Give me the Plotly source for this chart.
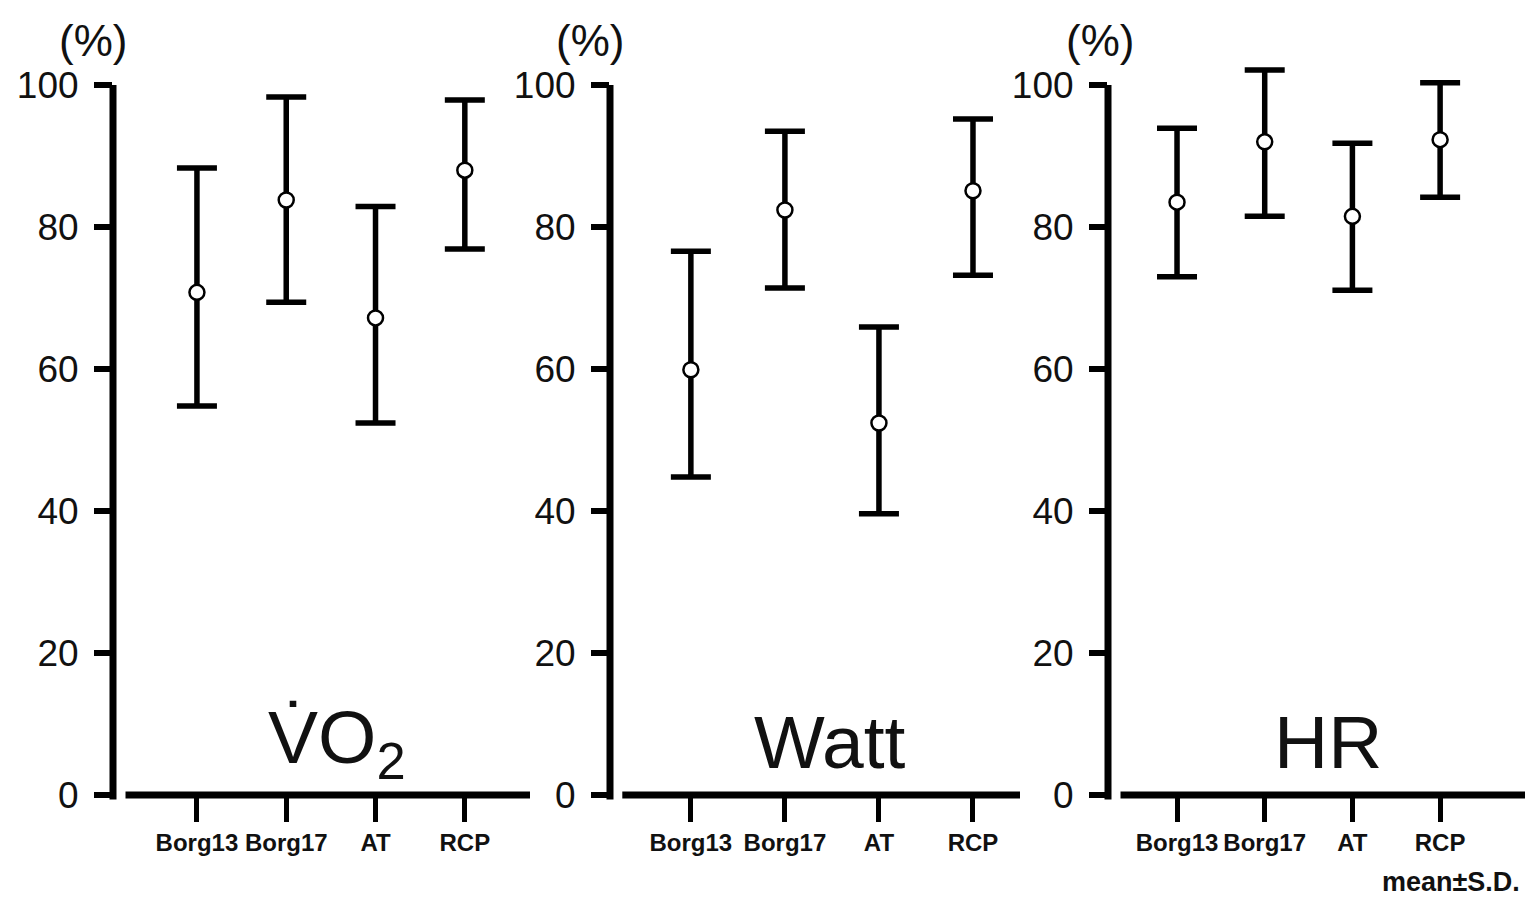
import plotly.graph_objects as go

categories = ["Borg13", "Borg17", "AT", "RCP"]

vo2_mean = [70.8, 83.8, 67.2, 88.0]
vo2_upper = [88.3, 98.3, 82.9, 97.9]
vo2_lower = [54.8, 69.4, 52.4, 76.9]

watt_mean = [59.9, 82.4, 52.4, 85.1]
watt_upper = [76.6, 93.5, 65.9, 95.2]
watt_lower = [44.8, 71.4, 39.6, 73.2]

hr_mean = [83.5, 92.0, 81.5, 92.3]
hr_upper = [93.9, 102.1, 91.8, 100.3]
hr_lower = [73.0, 81.5, 71.1, 84.2]

y_ticks = [0, 20, 40, 60, 80, 100]
panel_titles = ["V\u0307O<sub>2</sub>", "Watt", "HR"]
unit_label = "(%)"
note = "mean\u00b1S.D."

W, H = 1526, 897
FONT = "Liberation Sans, Arial, sans-serif"

panels = [
    (vo2_mean, vo2_upper, vo2_lower),
    (watt_mean, watt_upper, watt_lower),
    (hr_mean, hr_upper, hr_lower),
]

# layout geometry (pixels)
axis_px = [113, 610, 1108]
end_px = [530, 1020, 1525]
xranges = [[-0.94, 3.73], [-0.86, 3.50], [-0.787, 3.968]]
title_x = [337, 830, 1328]
unit_x = [93, 590, 1100]
y0_px, ytop_px = 795, 42.4
yrange = [0, 106]

fig = go.Figure()
layout = dict(
    width=W, height=H, autosize=False,
    margin=dict(l=0, r=0, t=0, b=0, pad=0),
    paper_bgcolor="white", plot_bgcolor="white",
    showlegend=False,
    font=dict(family=FONT, color="black"),
)
shapes = []
annotations = []

for i, (m, up, lo) in enumerate(panels):
    n = "" if i == 0 else str(i + 1)
    xa, ya = "x" + n, "y" + n
    fig.add_trace(go.Scatter(
        x=categories, y=m,
        mode="markers",
        marker=dict(symbol="circle", size=15, color="white",
                    line=dict(color="black", width=2.5)),
        error_y=dict(type="data", symmetric=False,
                     array=[u - v for u, v in zip(up, m)],
                     arrayminus=[v - l for v, l in zip(m, lo)],
                     color="black", thickness=5.5, width=20),
        xaxis=xa, yaxis=ya, cliponaxis=False,
    ))
    dom_x = [axis_px[i] / W, end_px[i] / W]
    dom_y = [(H - y0_px) / H, (H - ytop_px) / H]
    layout["xaxis" + n] = dict(
        domain=dom_x, range=xranges[i], type="category",
        anchor=ya, showgrid=False, zeroline=False, showline=False,
        automargin=False,
        ticks="outside", ticklen=26, tickwidth=5, tickcolor="black",
        tickfont=dict(family=FONT, size=24, color="#111", weight="bold"),
        fixedrange=True,
    )
    layout["yaxis" + n] = dict(
        domain=dom_y, range=yrange, anchor=xa,
        tickvals=y_ticks, showgrid=False, zeroline=False, showline=False,
        automargin=False,
        ticks="outside", ticklen=18, tickwidth=6, tickcolor="black",
        ticklabelstandoff=8,
        tickfont=dict(family=FONT, size=37, color="#111"),
        fixedrange=True,
    )
    # axis lines
    shapes.append(dict(type="line", xref=xa + " domain", yref=ya + " domain",
                       x0=0, x1=0, y0=-0.006, y1=100 / 106,
                       line=dict(color="black", width=7)))
    shapes.append(dict(type="line", xref=xa + " domain", yref=ya + " domain",
                       x0=0.03, x1=1, y0=0, y1=0,
                       line=dict(color="black", width=7)))
    annotations.append(dict(text=panel_titles[i], xref="paper", yref="paper",
                            x=title_x[i] / W, y=(H - 742) / H,
                            xanchor="center", yanchor="middle", showarrow=False,
                            font=dict(family=FONT, size=75, color="#111")))
    annotations.append(dict(text=unit_label, xref="paper", yref="paper",
                            x=unit_x[i] / W, y=(H - 40) / H,
                            xanchor="center", yanchor="middle", showarrow=False,
                            borderpad=0,
                            font=dict(family=FONT, size=44, color="#111")))

annotations.append(dict(text=note, xref="paper", yref="paper",
                        x=1521 / W, y=(H - 882) / H,
                        xanchor="right", yanchor="middle", showarrow=False,
                        borderpad=0,
                        font=dict(family=FONT, size=27, color="#111", weight="bold")))

layout["shapes"] = shapes
layout["annotations"] = annotations
fig.update_layout(**layout)
fig.write_html("out.html")
